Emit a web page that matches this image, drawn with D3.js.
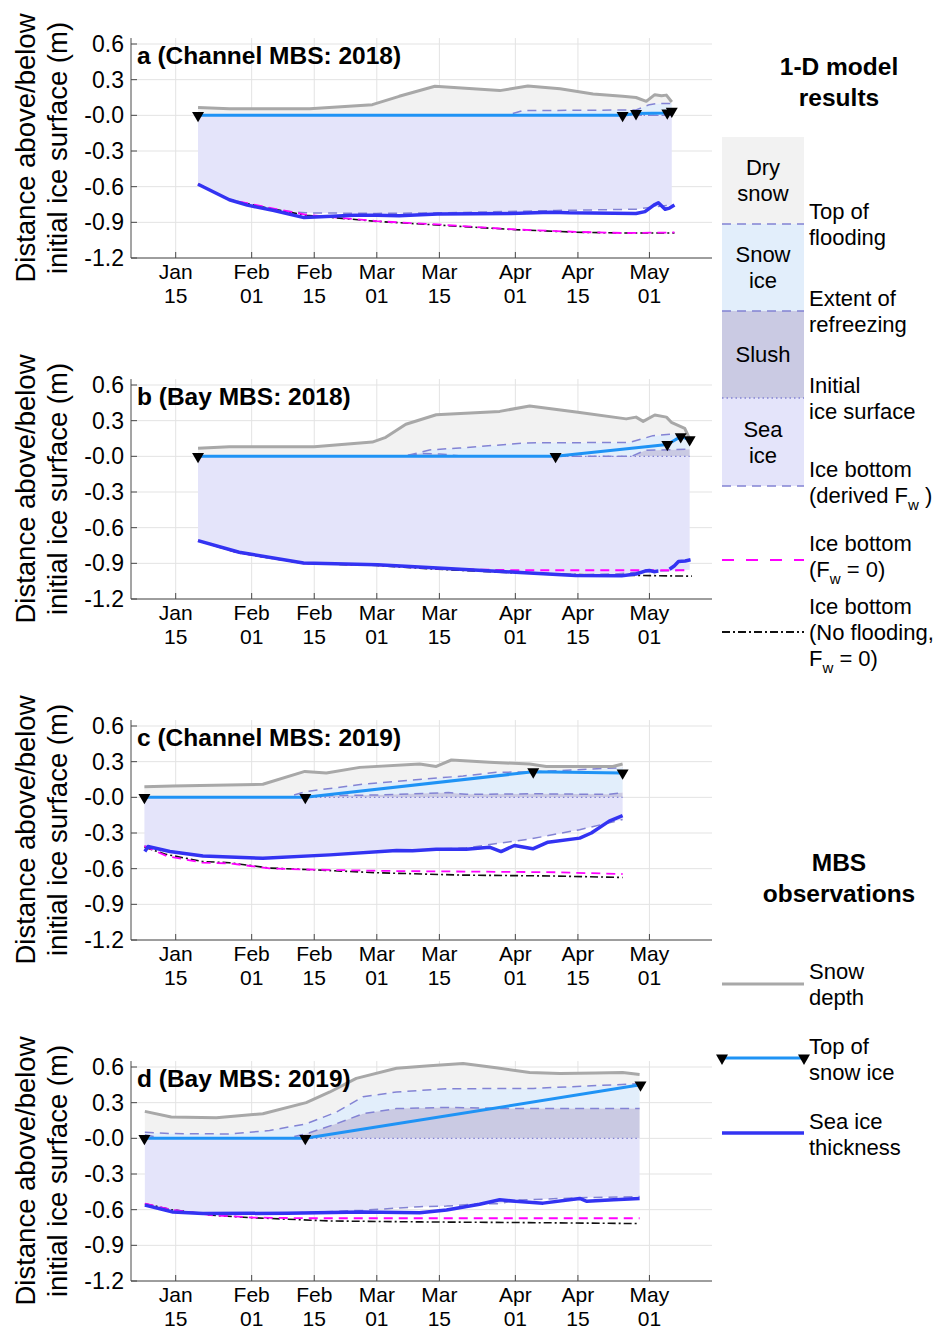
<!DOCTYPE html>
<html><head><meta charset="utf-8">
<script src="https://cdn.jsdelivr.net/npm/d3@7"></script>
<style>
body{margin:0;background:#fff}
text{font-family:"Liberation Sans",Arial,Helvetica,sans-serif;fill:#000}
</style></head><body>
<svg id="fig" width="945" height="1331"></svg>
<script>
// ---- axis ticks and labels ----
const tickDays = [15, 32, 46, 60, 74, 91, 105, 121];          // day of year: Jan 15 ... May 01
const yTicks = [0.6, 0.3, 0, -0.3, -0.6, -0.9, -1.2];
const yTickLabels = ["0.6", "0.3", "-0.0", "-0.3", "-0.6", "-0.9", "-1.2"];
const panelLabels = ["a (Channel MBS: 2018)", "b (Bay MBS: 2018)", "c (Channel MBS: 2019)", "d (Bay MBS: 2019)"];
const panelYears = [2018, 2018, 2019, 2019];

// ---- series: [day of year, metres relative to initial ice surface] ----
// a: Channel MBS 2018
const snowA = [[20,0.065],[27,0.055],[45,0.055],[59,0.09],[65,0.16],[73,0.245],[87.5,0.208],[93.8,0.247],[101,0.224],[108.4,0.18],[115,0.16],[118,0.15],[120.3,0.118],[122.2,0.174],[123.7,0.165],[124.8,0.17],[126,0.112]];
const floodA = [[20,0],[89,0],[92.7,0.04],[118,0.045],[121,0.09],[123,0.1],[126,0.1]];
const refreezeA = [[20,0],[126,0]];
const bottomA = [[20,-0.58],[27,-0.71],[31,-0.755],[38,-0.8],[44,-0.82],[60,-0.825],[75,-0.82],[100,-0.8],[118,-0.79],[122,-0.77],[126,-0.755]];
const noMeltA = [[20,-0.58],[27,-0.71],[35,-0.77],[44,-0.835],[60,-0.89],[74.5,-0.92],[91,-0.96],[104.5,-0.98],[115,-0.99],[126.6,-0.985]];
const noFloodA = [[20,-0.58],[27,-0.71],[35,-0.775],[44,-0.84],[60,-0.892],[74.5,-0.925],[91,-0.962],[104.5,-0.983],[115,-0.99],[126.6,-0.99]];
const snowIceTopA = [[20,0],[115,0],[118,0.015],[125,0.02],[126,0.035]];
const iceA = [[20,-0.58],[27,-0.71],[31,-0.755],[37,-0.8],[43.7,-0.86],[55,-0.84],[60,-0.84],[65,-0.845],[73.6,-0.83],[90,-0.825],[99,-0.815],[103,-0.82],[118,-0.825],[120,-0.81],[122,-0.755],[123,-0.735],[124.5,-0.79],[125.5,-0.78],[126.6,-0.755]];

// b: Bay MBS 2018
const snowB = [[20,0.067],[27,0.08],[46,0.08],[59,0.12],[62,0.16],[66.5,0.27],[73.3,0.35],[87.5,0.378],[94.2,0.424],[105,0.37],[115.8,0.315],[118,0.33],[119.6,0.294],[122.2,0.348],[124.8,0.33],[125.9,0.286],[128.9,0.235],[130,0.146]];
const floodB = [[20,0],[66,0],[71.8,0.054],[78.5,0.07],[93.4,0.113],[116.6,0.117],[121.8,0.174],[126,0.186],[130,0.17]];
const refreezeB = [[20,0],[66,0],[70,0.025],[74,0.02],[80,0],[117,0],[120,0.05],[130,0.06]];
const bottomB = [[20,-0.709],[29,-0.807],[43.6,-0.897],[60,-0.911],[73.6,-0.939],[91,-0.975],[104.5,-0.995],[113,-0.99],[120,-0.97],[130,-0.955]];
const noMeltB = [[20,-0.709],[29,-0.81],[43.6,-0.9],[60,-0.915],[73.6,-0.945],[91,-0.958],[130,-0.958]];
const noFloodB = [[20,-0.709],[29,-0.812],[43.6,-0.9],[60,-0.918],[73.6,-0.95],[91,-0.98],[104.5,-0.995],[130.5,-1.008]];
const snowIceTopB = [[20,0],[100,0],[125,0.1],[128,0.166],[130,0.14]];
const iceB = [[20,-0.709],[29.2,-0.807],[43.6,-0.897],[60.2,-0.911],[73.6,-0.939],[91,-0.975],[104.5,-1.003],[114.8,-1.005],[118,-0.99],[120,-0.965],[121,-0.96],[122,-0.97],[123,-0.965],[124,null],[125.5,-0.95],[126.6,-0.92],[127.5,-0.885],[129,-0.88],[130.2,-0.87]];

// c: Channel MBS 2019
const snowC = [[8,0.088],[14.3,0.096],[34.5,0.11],[43.9,0.218],[48.7,0.204],[56.2,0.252],[69.6,0.28],[73.3,0.26],[76.7,0.314],[85.2,0.295],[94.2,0.28],[97.9,0.26],[112.8,0.26],[115,0.28]];
const floodC = [[8,0],[39.8,0],[44,0.048],[56.9,0.11],[79.3,0.18],[86.7,0.21],[95,0.215],[115,0.25]];
const refreezeC = [[8,0],[42,0],[44,0.01],[50,0.015],[60,0.02],[76,0.04],[80,0.025],[95,0.03],[112,0.025],[115,0.04]];
const bottomC = [[8,-0.41],[13.7,-0.456],[21.1,-0.493],[34.5,-0.513],[49.5,-0.484],[64.4,-0.447],[73.3,-0.436],[80,-0.425],[94.2,-0.351],[105.4,-0.272],[115,-0.187]];
const noMeltC = [[8,-0.41],[12.9,-0.493],[21,-0.55],[27,-0.555],[36,-0.598],[44.2,-0.607],[64,-0.62],[100,-0.63],[115,-0.645]];
const noFloodC = [[8,-0.42],[12.9,-0.48],[21,-0.54],[27,-0.55],[36,-0.595],[44.2,-0.607],[60.6,-0.635],[79,-0.654],[100,-0.662],[115,-0.674]];
const snowIceTopC = [[8,0],[44,0],[95,0.215],[115,0.205]];
const iceC = [[8.1,-0.456],[8.8,-0.414],[13.7,-0.456],[21.1,-0.493],[34.5,-0.513],[49.5,-0.484],[64.4,-0.447],[68,-0.45],[73.3,-0.436],[80,-0.436],[85.2,-0.419],[87.8,-0.456],[90.8,-0.405],[94.9,-0.433],[98.3,-0.377],[105.4,-0.343],[108,-0.3],[112,-0.2],[115,-0.153]];

// d: Bay MBS 2019
const snowD = [[8.1,0.227],[14,0.18],[24.1,0.173],[34.5,0.207],[44.2,0.3],[49.5,0.39],[55.4,0.504],[64.4,0.589],[71.8,0.61],[79.3,0.63],[86.7,0.593],[94.2,0.553],[101,0.545],[109,0.55],[115,0.553],[118.8,0.537]];
const floodD = [[8.1,0.052],[14,0.04],[27,0.037],[36,0.066],[44.2,0.122],[50.9,0.22],[56.9,0.35],[64.4,0.39],[75.5,0.417],[95,0.42],[118.8,0.46]];
const refreezeD = [[8.1,0.03],[12,0],[39.7,0],[44.2,0.038],[50.9,0.122],[56.9,0.207],[64.4,0.25],[75.5,0.26],[90.4,0.25],[118.8,0.25]];
const bottomD = [[8.1,-0.56],[14,-0.6],[21.1,-0.63],[40,-0.63],[56.9,-0.605],[69.6,-0.575],[75.6,-0.57],[83,-0.55],[87.5,-0.55],[91,-0.52],[105.4,-0.5],[118.8,-0.49]];
const noMeltD = [[8.1,-0.55],[14,-0.6],[23.3,-0.647],[32.3,-0.666],[44,-0.672],[118.8,-0.672]];
const noFloodD = [[8.1,-0.55],[14,-0.6],[23.3,-0.647],[32.3,-0.668],[49.5,-0.695],[70,-0.703],[94,-0.709],[118.8,-0.717]];
const snowIceTopD = [[8,0],[44,0],[119,0.45]];
const iceD = [[8.1,-0.562],[14.4,-0.619],[21.1,-0.633],[40,-0.63],[56.9,-0.619],[69.6,-0.625],[75.6,-0.602],[83,-0.554],[87.5,-0.517],[91,-0.53],[97.2,-0.545],[105.4,-0.506],[107,-0.53],[113,-0.517],[118.8,-0.506]];

const panels = [
  {snow: snowA, flood: floodA, refreeze: refreezeA, bottom: bottomA, noMelt: noMeltA, noFlood: noFloodA, top: snowIceTopA, ice: iceA},
  {snow: snowB, flood: floodB, refreeze: refreezeB, bottom: bottomB, noMelt: noMeltB, noFlood: noFloodB, top: snowIceTopB, ice: iceB},
  {snow: snowC, flood: floodC, refreeze: refreezeC, bottom: bottomC, noMelt: noMeltC, noFlood: noFloodC, top: snowIceTopC, ice: iceC},
  {snow: snowD, flood: floodD, refreeze: refreezeD, bottom: bottomD, noMelt: noMeltD, noFlood: noFloodD, top: snowIceTopD, ice: iceD}
];

// ---- styles ----
const C = {
  dry: "#f2f2f2", snowIce: "#e2eefb", slush: "#cacae3", seaIce: "#e4e4fa",
  model: "#8383d4", grid: "#e3e3e3", axis: "#4a4a4a",
  snowObs: "#a8a8a8", topObs: "#1f93f5", iceObs: "#3333f2", noMelt: "#ff00ff", noFlood: "#111"
};
const DASH = "9 6", DOT = "1.5 3", DASHDOT = "8 3 2 3";
const FONT_TICK = 23, FONT_XTICK = 21, FONT_TITLE = 24.5, FONT_LEG = 22, FONT_HEAD = 24.5, FONT_YLAB = 27.5;

const svg = d3.select("#fig");
const X0 = 131, X1 = 712;
const PANEL_STEP = 341;
const day = (yr, d) => new Date(Date.UTC(yr, 0, 1) + (d - 1) * 864e5);

const yTriangle = d3.symbol().type(d3.symbolTriangle).size(62);

panels.forEach((p, i) => {
  const yr = panelYears[i];
  const off = i * PANEL_STEP;
  const x = d3.scaleUtc().domain([day(yr, 5), day(yr, 135)]).range([X0, X1]);
  const y = d3.scaleLinear().domain([-1.2, 0.65]).range([258 + off, 38.06 + off]);
  const g = svg.append("g");
  const px = d => x(day(yr, d[0]));
  const line = d3.line().defined(d => d[1] != null).x(px).y(d => y(d[1]));
  const poly = (upper, lower) => line(upper.concat(lower.slice().reverse())) + "Z";

  // grid
  const gridG = g.append("g");
  gridG.selectAll("line.h").data(yTicks).join("line")
    .attr("x1", X0).attr("x2", X1).attr("y1", d => y(d)).attr("y2", d => y(d))
    .attr("stroke", C.grid).attr("stroke-width", 1);
  gridG.selectAll("line.v").data(tickDays).join("line")
    .attr("x1", d => x(day(yr, d))).attr("x2", d => x(day(yr, d)))
    .attr("y1", y(0.65)).attr("y2", y(-1.2))
    .attr("stroke", C.grid).attr("stroke-width", 1);

  // model layers
  const d0 = p.bottom[0][0], d1 = p.bottom[p.bottom.length - 1][0];
  const surface = [[d0, 0], [d1, 0]];
  g.append("path").attr("d", poly(p.snow, p.flood)).attr("fill", C.dry);
  g.append("path").attr("d", poly(p.flood, p.refreeze)).attr("fill", C.snowIce);
  g.append("path").attr("d", poly(p.refreeze, surface)).attr("fill", C.slush);
  g.append("path").attr("d", poly(surface, p.bottom)).attr("fill", C.seaIce);

  const stroke = (data, color, w, dash) => g.append("path").attr("d", line(data))
    .attr("fill", "none").attr("stroke", color).attr("stroke-width", w)
    .attr("stroke-dasharray", dash || null).attr("stroke-linejoin", "round");

  stroke(surface, C.model, 1.3, DOT);
  stroke(p.refreeze, C.model, 1.5, DASH);
  stroke(p.flood, C.model, 1.5, DASH);
  stroke(p.bottom, C.model, 1.5, DASH);
  stroke(p.noFlood, C.noFlood, 1.6, DASHDOT);
  stroke(p.noMelt, C.noMelt, 1.8, DASH);

  // observations
  stroke(p.snow, C.snowObs, 3);
  stroke(p.ice, C.iceObs, 3.5);
  stroke(p.top, C.topObs, 3);
  g.selectAll("path.tri").data(p.top).join("path")
    .attr("d", yTriangle)
    .attr("transform", d => `translate(${px(d)},${y(d[1])}) rotate(180)`)
    .attr("fill", "#000");

  // axes
  g.append("line").attr("x1", X0).attr("x2", X0).attr("y1", y(0.65)).attr("y2", y(-1.2))
    .attr("stroke", C.axis).attr("stroke-width", 1);
  g.append("line").attr("x1", X0).attr("x2", X1).attr("y1", y(-1.2)).attr("y2", y(-1.2))
    .attr("stroke", C.axis).attr("stroke-width", 1);
  g.selectAll("line.yt").data(yTicks).join("line")
    .attr("x1", X0).attr("x2", X0 + 6).attr("y1", d => y(d)).attr("y2", d => y(d))
    .attr("stroke", C.axis);
  g.selectAll("line.xt").data(tickDays).join("line")
    .attr("x1", d => x(day(yr, d))).attr("x2", d => x(day(yr, d)))
    .attr("y1", y(-1.2)).attr("y2", y(-1.2) - 6).attr("stroke", C.axis);

  g.selectAll("text.yl").data(yTicks).join("text")
    .attr("x", X0 - 7).attr("y", d => y(d)).attr("dy", "0.35em")
    .attr("text-anchor", "end").attr("font-size", FONT_TICK)
    .text((d, k) => yTickLabels[k]);
  const fmtM = d3.utcFormat("%b"), fmtD = d3.utcFormat("%d");
  const xl = g.selectAll("text.xl").data(tickDays).join("text")
    .attr("text-anchor", "middle").attr("font-size", FONT_XTICK);
  xl.append("tspan").attr("x", d => x(day(yr, d))).attr("y", y(-1.2) + 21).text(d => fmtM(day(yr, d)));
  xl.append("tspan").attr("x", d => x(day(yr, d))).attr("y", y(-1.2) + 45).text(d => fmtD(day(yr, d)));

  // y title
  const cy = (y(0.65) + y(-1.2)) / 2;
  const yt = g.append("text").attr("transform", `translate(0,${cy}) rotate(-90)`)
    .attr("text-anchor", "middle").attr("font-size", FONT_YLAB);
  yt.append("tspan").attr("x", 0).attr("y", 35).text("Distance above/below");
  yt.append("tspan").attr("x", 0).attr("y", 67).text("initial ice surface (m)");

  // panel label
  g.append("text").attr("x", 137).attr("y", y(0.6) + 20)
    .attr("font-size", FONT_TITLE).attr("font-weight", "bold").text(panelLabels[i]);
});

// ---- legend ----
const L = svg.append("g");
const LX0 = 722, LX1 = 804, TX = 809, CX = 839;
const txt = (xx, yy, s, opt = {}) => L.append("text").attr("x", xx).attr("y", yy).attr("dy", "0.35em")
  .attr("font-size", opt.size || FONT_LEG).attr("font-weight", opt.bold ? "bold" : null)
  .attr("text-anchor", opt.anchor || "start").text(s);
const sub = (xx, yy, before, after) => {
  const t = L.append("text").attr("x", xx).attr("y", yy).attr("dy", "0.35em").attr("font-size", FONT_LEG);
  t.append("tspan").text(before);
  t.append("tspan").attr("dy", 7).attr("font-size", 15).text("w");
  t.append("tspan").attr("dy", -7).text(after);
};

txt(CX, 66, "1-D model", {bold: true, anchor: "middle", size: FONT_HEAD});
txt(CX, 97, "results", {bold: true, anchor: "middle", size: FONT_HEAD});

const layers = [
  {y0: 137, y1: 224, fill: C.dry, lines: ["Dry", "snow"]},
  {y0: 224, y1: 311, fill: C.snowIce, lines: ["Snow", "ice"]},
  {y0: 311, y1: 398, fill: C.slush, lines: ["Slush"]},
  {y0: 398, y1: 486, fill: C.seaIce, lines: ["Sea", "ice"]}
];
layers.forEach(l => {
  L.append("rect").attr("x", LX0).attr("y", l.y0).attr("width", LX1 - LX0).attr("height", l.y1 - l.y0).attr("fill", l.fill);
  const mid = (l.y0 + l.y1) / 2 + (l.lines.length === 1 ? 0 : -13);
  l.lines.forEach((s, k) => txt((LX0 + LX1) / 2, mid + k * 26, s, {anchor: "middle"}));
});
const hl = (yy, color, w, dash) => L.append("line").attr("x1", LX0).attr("x2", LX1).attr("y1", yy).attr("y2", yy)
  .attr("stroke", color).attr("stroke-width", w).attr("stroke-dasharray", dash || null);
hl(224, C.model, 1.5, DASH);
hl(311, C.model, 1.5, DASH);
hl(398, C.model, 1.3, DOT);
hl(486, C.model, 1.5, DASH);
txt(TX, 211, "Top of"); txt(TX, 237, "flooding");
txt(TX, 298, "Extent of"); txt(TX, 324, "refreezing");
txt(TX, 385, "Initial"); txt(TX, 411, "ice surface");
txt(TX, 469, "Ice bottom"); sub(TX, 495, "(derived F", " )");

hl(560, C.noMelt, 2, "12 12");
txt(TX, 543, "Ice bottom"); sub(TX, 569, "(F", " = 0)");
hl(632, C.noFlood, 2, DASHDOT);
txt(TX, 606, "Ice bottom"); txt(TX, 632, "(No flooding,"); sub(TX, 658, "F", " = 0)");

txt(CX, 862, "MBS", {bold: true, anchor: "middle", size: FONT_HEAD});
txt(CX, 893, "observations", {bold: true, anchor: "middle", size: FONT_HEAD});

hl(984, C.snowObs, 3);
txt(TX, 971, "Snow"); txt(TX, 997, "depth");
hl(1058, C.topObs, 3);
[LX0, LX1].forEach(xx => L.append("path").attr("d", yTriangle)
  .attr("transform", `translate(${xx},1058) rotate(180)`).attr("fill", "#000"));
txt(TX, 1046, "Top of"); txt(TX, 1072, "snow ice");
hl(1133, C.iceObs, 3.5);
txt(TX, 1121, "Sea ice"); txt(TX, 1147, "thickness");
</script>
</body></html>
